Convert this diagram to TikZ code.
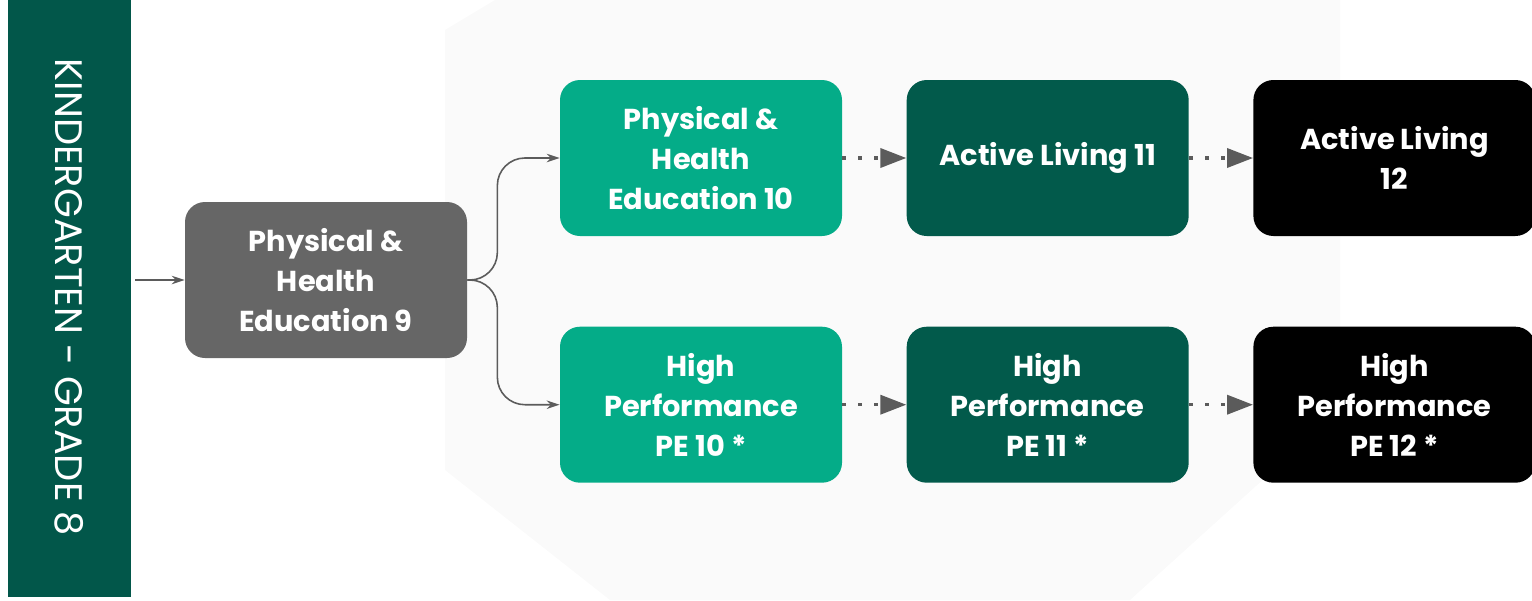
\documentclass[tikz,border=0pt]{standalone}
\usepackage{xcolor}
\usepackage{fontspec}
\setmainfont{Poppins}
\usepackage{tikz}
\usetikzlibrary{arrows.meta, positioning, backgrounds, calc}
\definecolor{barGreen}{HTML}{02574A}
\definecolor{boxGrey}{HTML}{666666}
\definecolor{lightTeal}{HTML}{04AC88}
\definecolor{darkTeal}{HTML}{025A4B}
\definecolor{arrowGrey}{HTML}{5B5B5B}
\definecolor{markGrey}{HTML}{FAFAFA}
\tikzset{%
	gradebar/.style={draw=none, rectangle, fill=barGreen, minimum width=11.96cm,%
		minimum height=2.46cm, inner sep=0mm, text=white, font=\fontsize{21.8}{26}\selectfont},
	course/.style={rectangle, rounded corners=0.4cm, minimum width=5.64cm,%
		minimum height=3.12cm, inner sep=0mm, align=center, text=white,%
		font=\bfseries\fontsize{16.4}{22.8}\selectfont},
	grade9/.style={course, fill=boxGrey},
	grade10/.style={course, fill=lightTeal},
	grade11/.style={course, fill=darkTeal},
	grade12/.style={course, fill=black},
	feed/.style={-{Stealth[length=2.6mm, width=1.7mm]}, line width=0.9pt, draw=arrowGrey},
	branch/.style={feed, rounded corners=0.55cm},
	pathway/.style={-{Triangle[length=5.2mm, width=3.8mm]}, line width=0.07cm,%
		draw=arrowGrey, dash pattern=on 0.07cm off 0.25cm}
}

\begin{document}
\begin{tikzpicture}[node distance=1.28cm]
	\useasboundingbox (0,0) rectangle (30.64,-12);
	% faint logo behind the courses
	\fill[markGrey] (8.9,-0.6) -- (9.9,0) -- (26.8,0) -- (26.8,-8.2) -- (22.6,-12)
		-- (12.2,-12) -- (8.9,-9.4) -- cycle;

	\node[gradebar, rotate=-90] (kto8) at (1.39,-5.95) {KINDERGARTEN - GRADE 8};
	\node[grade9] (pe9) at (6.52,-5.6) {Physical \&\\Health\\Education 9};

	\node[grade10] (pe10) at (14.02,-3.16) {Physical \&\\Health\\Education 10};
	\node[grade11, right=of pe10] (al11) {Active Living 11};
	\node[grade12, right=of al11] (al12) {Active Living\\12};

	\node[grade10, below=1.8cm of pe10] (hpe10) {High\\Performance\\PE 10 *};
	\node[grade11, right=of hpe10] (hpe11) {High\\Performance\\PE 11 *};
	\node[grade12, right=of hpe11] (hpe12) {High\\Performance\\PE 12 *};

	\draw[feed, shorten <=0.08cm] (kto8.north |- pe9.west) to (pe9.west);
	\draw[branch] (pe9.east) -- ++(0.6,0) |- (pe10.west);
	\draw[branch] (pe9.east) -- ++(0.6,0) |- (hpe10.west);
	\draw[pathway] (pe10) to (al11);
	\draw[pathway] (al11) to (al12);
	\draw[pathway] (hpe10) to (hpe11);
	\draw[pathway] (hpe11) to (hpe12);
\end{tikzpicture}
\end{document}
